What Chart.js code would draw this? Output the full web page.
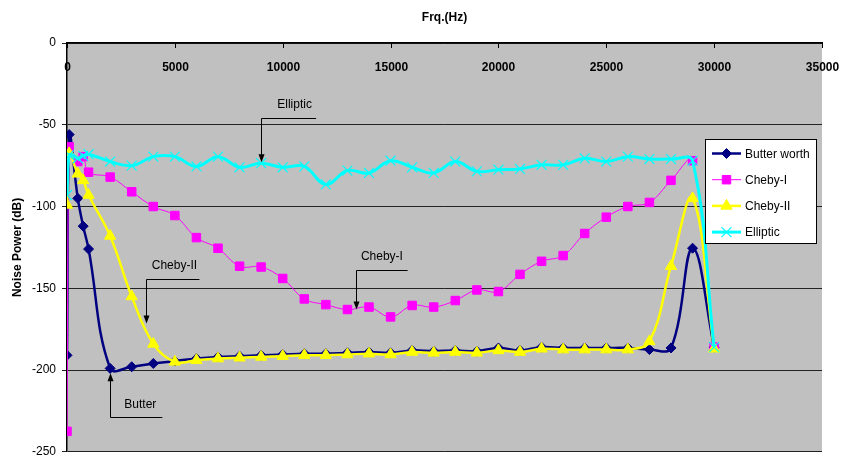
<!DOCTYPE html>
<html>
<head>
<meta charset="utf-8">
<script src="https://cdn.jsdelivr.net/npm/chart.js@4/dist/chart.umd.min.js"></script>
<style>
  html, body { margin: 0; padding: 0; background: #fff; }
</style>
</head>
<body>
<canvas id="noise" width="842" height="460"></canvas>
<script>
// frequency points (Hz)
var freq = [0, 100, 500, 750, 1000, 2000, 3000, 4000, 5000, 6000, 7000, 8000, 9000, 10000,
  11000, 12000, 13000, 14000, 15000, 16000, 17000, 18000, 19000, 20000, 21000, 22000,
  23000, 24000, 25000, 26000, 27000, 28000, 29000, 30000];

// noise power (dB) per filter
var butter = [-191, -56, -95, -112, -126, -199, -198, -196, -194.5, -193, -192, -191.5, -191, -190.5,
  -190, -190, -189.5, -189, -189.5, -188, -188.5, -188, -188.5, -186.5, -188, -186,
  -186.5, -186.5, -186.5, -186.5, -187.5, -186.5, -125.5, -186];
var chebyI = [-237.5, -63.5, -72.5, -69.5, -79, -82, -91, -100, -105.5, -119, -125.5, -136.5, -137, -144,
  -156.5, -160, -163, -161.5, -167.5, -160.5, -161.5, -157.5, -151, -152, -141.5, -133.5,
  -130, -116.5, -106.5, -100, -97.5, -84, -72, -186];
var chebyII = [-99, -67.5, -80, -84, -93, -118, -155, -184, -195, -194, -193, -192.5, -192, -191.5,
  -191, -191, -190.5, -190, -190.5, -189, -189.5, -189, -189.5, -188, -189, -187,
  -187.5, -187.5, -187.5, -187.5, -182.5, -136.5, -95, -187];
var elliptic = [-93, -68.5, -70.5, -69, -68, -72.5, -75, -69.5, -69.5, -75.5, -69.5, -76, -73.5, -76,
  -75.5, -86.5, -78, -79.5, -72, -76, -79.5, -72.5, -78.5, -77.5, -77, -74.5,
  -74.5, -70.5, -72.5, -69.5, -71, -71, -72, -186];

var seriesNames = ['Butter worth', 'Cheby-I', 'Cheby-II', 'Elliptic'];

// callouts: label + arrow pointing at a curve
var notes = [
  { text: 'Elliptic', x: 9000, xEnd: 11550, yBar: -46, yTip: -73, tx: 10550, ty: -38 },
  { text: 'Cheby-I', x: 13420, xEnd: 15790, yBar: -139, yTip: -163, tx: 14600, ty: -130.5 },
  { text: 'Cheby-II', x: 3680, xEnd: 6140, yBar: -144.5, yTip: -171.5, tx: 4980, ty: -136 },
  { text: 'Butter', x: 2010, xEnd: 4420, yBar: -229, yTip: -202, tx: 3400, ty: -221 }
];

var FONT = "'Liberation Sans', Arial, sans-serif";

function pts(ys) {
  return freq.map(function (f, i) { return { x: f, y: ys[i] }; });
}

var plotBg = {
  id: 'plotBg',
  beforeDraw: function (chart) {
    var a = chart.chartArea, c = chart.ctx;
    c.save();
    c.fillStyle = '#c0c0c0';
    c.fillRect(a.left, a.top, a.right - a.left, a.bottom - a.top);
    c.restore();
  },
  beforeDatasetsDraw: function (chart) {
    // x tick marks + labels sit inside the plot, under the top axis
    var sx = chart.scales.x, a = chart.chartArea, c = chart.ctx;
    c.save();
    c.strokeStyle = '#000';
    c.lineWidth = 1;
    c.fillStyle = '#000';
    c.font = 'bold 12px ' + FONT;
    c.textAlign = 'center';
    c.textBaseline = 'middle';
    sx.ticks.forEach(function (t) {
      var px = Math.round(sx.getPixelForValue(t.value)) + 0.5;
      c.beginPath();
      c.moveTo(px, a.top);
      c.lineTo(px, a.top + 5);
      c.stroke();
      c.fillText(String(t.value), px, a.top + 25);
    });
    c.restore();
  }
};

var callouts = {
  id: 'callouts',
  afterDatasetsDraw: function (chart) {
    var sx = chart.scales.x, sy = chart.scales.y, c = chart.ctx;
    c.save();
    c.strokeStyle = '#000';
    c.fillStyle = '#000';
    c.lineWidth = 1;
    c.font = '12px ' + FONT;
    c.textAlign = 'center';
    c.textBaseline = 'middle';
    notes.forEach(function (n) {
      var x = Math.round(sx.getPixelForValue(n.x)) + 0.5;
      var xe = sx.getPixelForValue(n.xEnd);
      var yb = Math.round(sy.getPixelForValue(n.yBar)) + 0.5;
      var yt = sy.getPixelForValue(n.yTip);
      var dir = yt > yb ? 1 : -1;
      c.beginPath();
      c.moveTo(xe, yb);
      c.lineTo(x, yb);
      c.lineTo(x, yt - dir * 6);
      c.stroke();
      c.beginPath();
      c.moveTo(x, yt);
      c.lineTo(x - 3, yt - dir * 8);
      c.lineTo(x + 3, yt - dir * 8);
      c.closePath();
      c.fill();
      c.fillText(n.text, sx.getPixelForValue(n.tx), sy.getPixelForValue(n.ty));
    });
    c.restore();
  }
};

var boxLegend = {
  id: 'boxLegend',
  afterDraw: function (chart) {
    var a = chart.chartArea, c = chart.ctx;
    var w = 111, h = 104;
    var left = a.right - 6 - w, top = a.top + 96;
    c.save();
    c.fillStyle = '#fff';
    c.fillRect(left, top, w, h);
    c.strokeStyle = '#000';
    c.lineWidth = 1;
    c.strokeRect(Math.round(left) + 0.5, Math.round(top) + 0.5, w, h);
    c.font = '12px ' + FONT;
    c.textBaseline = 'middle';
    c.textAlign = 'left';
    chart.data.datasets.forEach(function (ds, i) {
      var y = top + 14.5 + i * 26.2;
      c.strokeStyle = ds.borderColor;
      c.lineWidth = ds.borderWidth;
      c.beginPath();
      c.moveTo(left + 7, y);
      c.lineTo(left + 36, y);
      c.stroke();
      c.fillStyle = ds.pointBackgroundColor;
      c.strokeStyle = ds.pointBorderColor;
      c.lineWidth = ds.pointBorderWidth;
      Chart.helpers.drawPoint(c, {
        pointStyle: ds.pointStyle, radius: ds.pointRadius, rotation: 0, borderWidth: ds.pointBorderWidth
      }, left + 21.5, y);
      c.fillStyle = '#000';
      c.fillText(ds.label, left + 40, y + 1);
    });
    c.restore();
  }
};

var ctx = document.getElementById('noise').getContext('2d');
var noiseChart = new Chart(ctx, {
  type: 'line',
  data: {
    datasets: [{
      label: seriesNames[0],
      data: pts(butter),
      borderColor: '#000080',
      borderWidth: 2.5,
      pointStyle: 'rectRot',
      pointRadius: 5,
      pointBackgroundColor: '#000080',
      pointBorderColor: '#000080',
      pointBorderWidth: 1,
      order: 4
    }, {
      label: seriesNames[1],
      data: pts(chebyI),
      borderColor: '#ff00ff',
      borderWidth: 1,
      pointStyle: 'rect',
      pointRadius: 6,
      pointBackgroundColor: '#ff00ff',
      pointBorderColor: '#ff00ff',
      pointBorderWidth: 1,
      order: 3
    }, {
      label: seriesNames[2],
      data: pts(chebyII),
      borderColor: '#ffff00',
      borderWidth: 2.5,
      pointStyle: 'triangle',
      pointRadius: 6.5,
      pointBackgroundColor: '#ffff00',
      pointBorderColor: '#ffff00',
      pointBorderWidth: 1,
      order: 2
    }, {
      label: seriesNames[3],
      data: pts(elliptic),
      borderColor: '#00ffff',
      borderWidth: 3,
      pointStyle: 'crossRot',
      pointRadius: 7,
      pointBackgroundColor: '#00ffff',
      pointBorderColor: '#00ffff',
      pointBorderWidth: 1.2,
      order: 1
    }]
  },
  options: {
    responsive: false,
    animation: false,
    devicePixelRatio: 1,
    layout: { padding: { left: 0, right: 20, top: 0, bottom: 7.5 } },
    elements: { line: { tension: 0.4, fill: false } },
    plugins: {
      legend: { display: false },
      tooltip: { enabled: false }
    },
    scales: {
      x: {
        type: 'linear',
        position: 'top',
        min: 0,
        max: 35000,
        ticks: { stepSize: 5000, display: false },
        grid: { display: false },
        border: { display: true, color: '#000', width: 1.5 },
        title: {
          display: true,
          text: 'Frq.(Hz)',
          color: '#000',
          font: { family: "'Liberation Sans Narrow', " + FONT, size: 12, weight: 'bold' },
          padding: { top: 10, bottom: 0 }
        },
        afterFit: function (s) { s.height = 43; }
      },
      y: {
        min: -250,
        max: 0,
        ticks: {
          stepSize: 50,
          color: '#000',
          padding: 6,
          font: { family: FONT, size: 12 }
        },
        grid: { color: '#222', lineWidth: 1, tickLength: 5 },
        border: { color: '#000', width: 1.5 },
        title: {
          display: true,
          text: 'Noise Power (dB)',
          color: '#000',
          font: { family: FONT, size: 12, weight: 'bold' },
          padding: { top: 10, bottom: 0 }
        },
        afterFit: function (s) {
          s.width = 67;
          s.paddingTop = 0;
          s.paddingBottom = 0;
        }
      }
    }
  },
  plugins: [plotBg, callouts, boxLegend]
});
</script>
</body>
</html>
